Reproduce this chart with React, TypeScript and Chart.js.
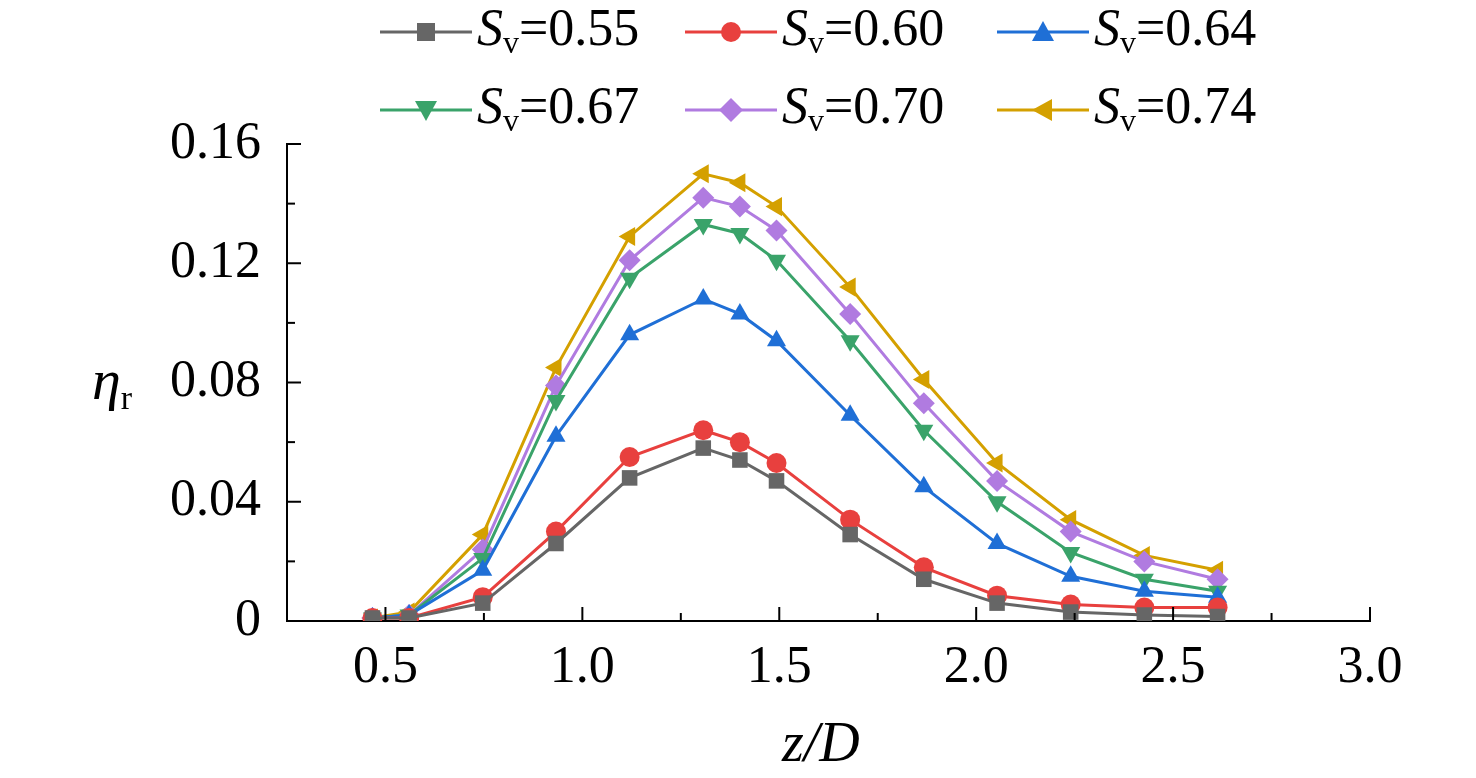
import React, { useEffect, useRef } from "react";
import { Chart, registerables } from "chart.js";
Chart.register(...registerables);

const zD = [0.467, 0.56, 0.747, 0.933, 1.12, 1.307, 1.4, 1.493, 1.68, 1.867, 2.053, 2.24, 2.427, 2.613];
const sv055 = [0.001, 0.001, 0.006, 0.026, 0.048, 0.058, 0.054, 0.047, 0.029, 0.014, 0.006, 0.003, 0.002, 0.0015];
const sv060 = [0.001, 0.001, 0.008, 0.030, 0.055, 0.064, 0.060, 0.053, 0.034, 0.018, 0.0085, 0.0055, 0.0045, 0.0045];
const sv064 = [0.001, 0.002, 0.017, 0.062, 0.096, 0.108, 0.103, 0.094, 0.069, 0.045, 0.026, 0.015, 0.010, 0.008];
const sv067 = [0.001, 0.002, 0.021, 0.074, 0.115, 0.133, 0.130, 0.121, 0.094, 0.064, 0.040, 0.023, 0.014, 0.010];
const sv070 = [0.001, 0.002, 0.024, 0.079, 0.121, 0.142, 0.139, 0.131, 0.103, 0.073, 0.047, 0.030, 0.020, 0.014];
const sv074 = [0.001, 0.003, 0.029, 0.085, 0.129, 0.150, 0.147, 0.139, 0.112, 0.081, 0.053, 0.034, 0.022, 0.017];
const xTicks = [0.5, 1.0, 1.5, 2.0, 2.5, 3.0];
const yTicks = [0, 0.04, 0.08, 0.12, 0.16];

const series = [
  { label: "0.55", data: sv055, color: "#666666", style: "rect", rot: 0 },
  { label: "0.60", data: sv060, color: "#e8403e", style: "circle", rot: 0 },
  { label: "0.64", data: sv064, color: "#1f6fd6", style: "triangle", rot: 0 },
  { label: "0.67", data: sv067, color: "#3aa36a", style: "triangle", rot: 180 },
  { label: "0.70", data: sv070, color: "#b07be0", style: "rectRot", rot: 0 },
  { label: "0.74", data: sv074, color: "#d4a000", style: "triangle", rot: -90 },
];

const FONT = "'Liberation Serif', 'Times New Roman', serif";

function Marker({ style, rot, color }: { style: string; rot: number; color: string }) {
  let shape: React.ReactNode;
  if (style === "rect") shape = <rect x={-9} y={-9} width={18} height={18} fill={color} />;
  else if (style === "circle") shape = <circle r={10} fill={color} />;
  else if (style === "rectRot") shape = <rect x={-8.5} y={-8.5} width={17} height={17} fill={color} transform="rotate(45)" />;
  else shape = <polygon points="0,-11 11,9 -11,9" fill={color} transform={`rotate(${rot})`} />;
  return (
    <svg width={92} height={30} style={{ position: "absolute", left: 0, top: -15 }}>
      <line x1={0} y1={15} x2={92} y2={15} stroke={color} strokeWidth={3} />
      <g transform="translate(46,15)">{shape}</g>
    </svg>
  );
}

export default function App() {
  const ref = useRef<HTMLCanvasElement>(null);
  useEffect(() => {
    const tickPlugin = {
      id: "inticks",
      afterDraw(chart: any) {
        const ctx = chart.ctx;
        const xs = chart.scales.x, ys = chart.scales.y;
        const a = chart.chartArea;
        ctx.save();
        ctx.strokeStyle = "#000";
        ctx.lineWidth = 2;
        for (let v = 0.5; v <= 3.0001; v += 0.25) {
          const px = xs.getPixelForValue(v);
          const major = Math.abs(v * 2 - Math.round(v * 2)) < 1e-6;
          ctx.beginPath();
          ctx.moveTo(px, a.bottom);
          ctx.lineTo(px, a.bottom - (major ? 14 : 8));
          ctx.stroke();
        }
        for (let v = 0; v <= 0.1601; v += 0.02) {
          const py = ys.getPixelForValue(v);
          const major = Math.round(v / 0.02) % 2 === 0;
          ctx.beginPath();
          ctx.moveTo(a.left, py);
          ctx.lineTo(a.left + (major ? 14 : 8), py);
          ctx.stroke();
        }
        ctx.restore();
      },
    };
    const chart = new Chart(ref.current!, {
      type: "line",
      data: {
        datasets: series.map((s) => ({
          label: s.label,
          data: zD.map((x, i) => ({ x, y: s.data[i] })),
          borderColor: s.color,
          backgroundColor: s.color,
          borderWidth: 3,
          pointStyle: s.style as any,
          pointRotation: s.rot,
          pointRadius: s.style === "circle" ? 10 : 11,
          pointBorderWidth: 0,
          tension: 0,
        })),
      },
      options: {
        animation: false,
        responsive: false,
        layout: { padding: { left: 0, top: 144, right: 106, bottom: 0 } },
        plugins: { legend: { display: false }, tooltip: { enabled: false } },
        scales: {
          x: {
            type: "linear",
            min: 0.25,
            max: 3.0,
            afterBuildTicks: (s: any) => { s.ticks = xTicks.map((v) => ({ value: v })); },
            afterFit: (s: any) => { s.height = 778 - 621; },
            grid: { display: false },
            border: { display: true, color: "#000", width: 2 },
            ticks: { color: "#000", font: { family: FONT, size: 52 }, padding: 8, maxRotation: 0, callback: (v: any) => Number(v).toFixed(1) },
          },
          y: {
            type: "linear",
            min: 0,
            max: 0.16,
            afterBuildTicks: (s: any) => { s.ticks = yTicks.map((v) => ({ value: v })); },
            afterFit: (s: any) => { s.width = 287; },
            grid: { display: false },
            border: { display: true, color: "#000", width: 2 },
            ticks: { color: "#000", font: { family: FONT, size: 52 }, padding: 18, callback: (v: any) => (Number(v) === 0 ? "0" : Number(v).toFixed(2)) },
          },
        },
      },
      plugins: [tickPlugin],
    });
    return () => chart.destroy();
  }, []);

  const cols = [380, 685, 997];
  const rows = [32, 110];
  return (
    <div style={{ position: "absolute", left: 0, top: 0, width: 1476, height: 778, background: "#fff", fontFamily: FONT }}>
      <canvas ref={ref} width={1476} height={778} style={{ position: "absolute", left: 0, top: 0 }} />
      {series.map((s, i) => (
        <div key={s.label} style={{ position: "absolute", left: cols[i % 3], top: rows[Math.floor(i / 3)], height: 0 }}>
          <Marker style={s.style} rot={s.rot} color={s.color} />
          <div style={{ position: "absolute", left: 97, top: -32, fontSize: 52, whiteSpace: "nowrap", lineHeight: "56px" }}>
            <i>S</i><sub style={{ fontSize: 32, verticalAlign: "-8px" }}>v</sub>=0{s.label.slice(1)}
          </div>
        </div>
      ))}
      <div style={{ position: "absolute", left: 92, top: 350, fontSize: 58, fontStyle: "italic", lineHeight: "60px" }}>
        η<sub style={{ fontSize: 34, fontStyle: "normal", verticalAlign: "-10px" }}>r</sub>
      </div>
      <div style={{ position: "absolute", left: 782, top: 712, fontSize: 56, fontStyle: "italic", lineHeight: "60px" }}>
        z/D
      </div>
    </div>
  );
}
